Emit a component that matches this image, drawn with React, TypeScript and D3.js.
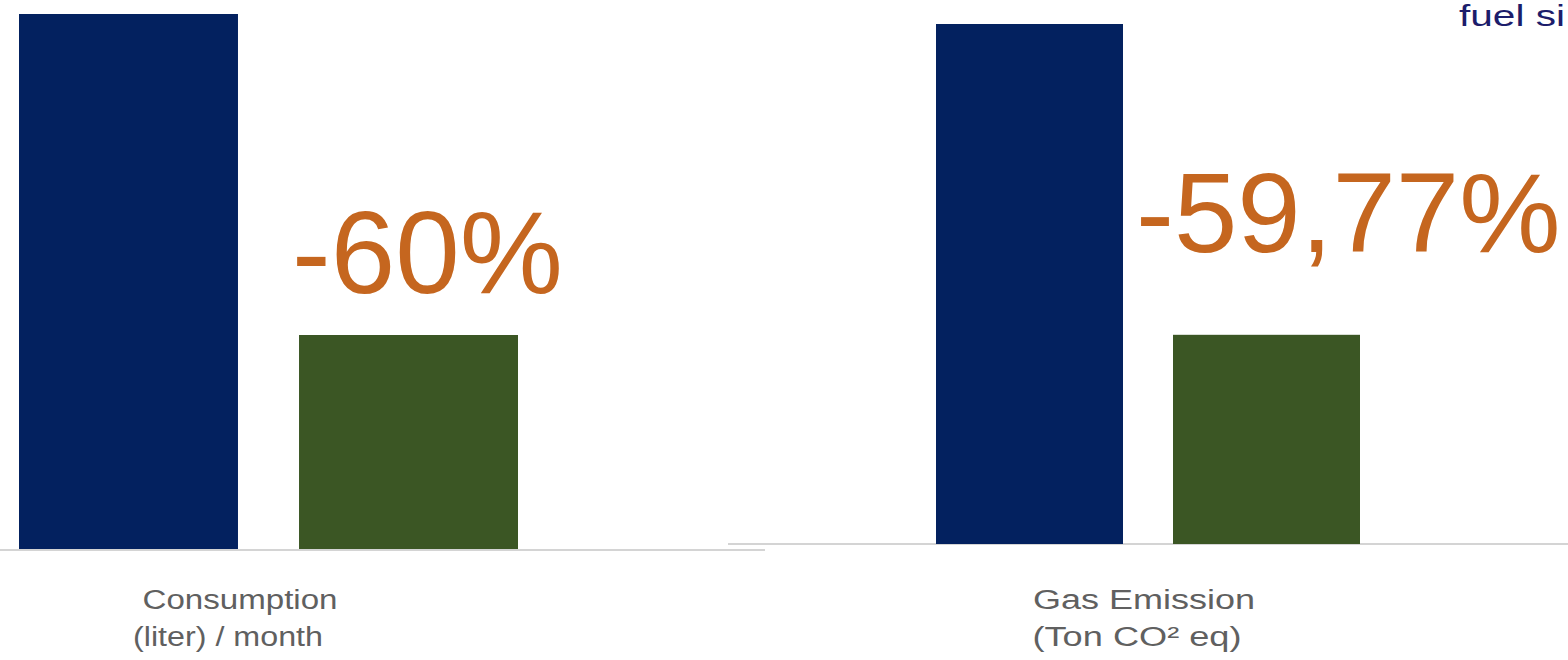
import React from "react";
import * as d3 from "d3";

const seriesKeys = ["Before", "After"];
const panelCategories = ["Consumption", "Gas Emission"];
const panelSubtitles = ["(liter) / month", "(Ton CO² eq)"];
const consumptionValues = [100, 40];
const emissionValues = [100, 40.23];
const changeLabels = ["-60%", "-59,77%"];
const cornerText = "fuel si";

const W = 1568;
const H = 660;
const COLORS = ["#03215f", "#3b5624"];
const ORANGE = "#c5661f";
const FONT = "'Liberation Sans', Arial, Helvetica, sans-serif";

const panels = [
  {
    values: consumptionValues,
    xRange: [19, 518],
    pad: 0.218,
    base: 549,
    top: 14,
    line: [0, 765],
    lineY: 550,
    label: changeLabels[0],
    labelX: 292,
    labelY: 293,
    labelSize: 116,
    catX: [240, 228],
    catLen: [195, 190],
  },
  {
    values: emissionValues,
    xRange: [936, 1360],
    pad: 0.211,
    base: 544,
    top: 24,
    line: [728, 1568],
    lineY: 544,
    label: changeLabels[1],
    labelX: 1136,
    labelY: 252,
    labelSize: 114,
    catX: [1144, 1137],
    catLen: [222, 209],
  },
];

export default function App() {
  return (
    <svg width={W} height={H} style={{ position: "absolute", left: 0, top: 0, background: "#fff" }}>
      <rect x={0} y={0} width={W} height={H} fill="#fff" />
      {panels.map((p, i) => {
        const x = d3.scaleBand<string>().domain(seriesKeys).range(p.xRange as [number, number]).paddingInner(p.pad).paddingOuter(0);
        const y = d3.scaleLinear().domain([0, 100]).range([p.base, p.top]);
        return (
          <g key={i}>
            <line x1={p.line[0]} x2={p.line[1]} y1={p.lineY} y2={p.lineY} stroke="#d4d4d4" strokeWidth={2} />
            {seriesKeys.map((k, j) => (
              <rect
                key={k}
                x={x(k)}
                width={x.bandwidth()}
                y={y(p.values[j])}
                height={y(0) - y(p.values[j])}
                fill={COLORS[j]}
              />
            ))}
            <text x={p.labelX} y={p.labelY} fill={ORANGE} fontFamily={FONT} fontSize={p.labelSize}>
              {p.label}
            </text>
            <text
              x={p.catX[0]}
              y={609}
              textAnchor="middle"
              fill="#606060"
              fontFamily={FONT}
              fontSize={27}
              textLength={p.catLen[0]}
              lengthAdjust="spacingAndGlyphs"
            >
              {panelCategories[i]}
            </text>
            <text
              x={p.catX[1]}
              y={646}
              textAnchor="middle"
              fill="#606060"
              fontFamily={FONT}
              fontSize={27}
              textLength={p.catLen[1]}
              lengthAdjust="spacingAndGlyphs"
            >
              {panelSubtitles[i]}
            </text>
          </g>
        );
      })}
      <text x={1459} y={26} fill="#1c1d6b" fontFamily={FONT} fontSize={30} textLength={106} lengthAdjust="spacingAndGlyphs">
        {cornerText}
      </text>
    </svg>
  );
}
